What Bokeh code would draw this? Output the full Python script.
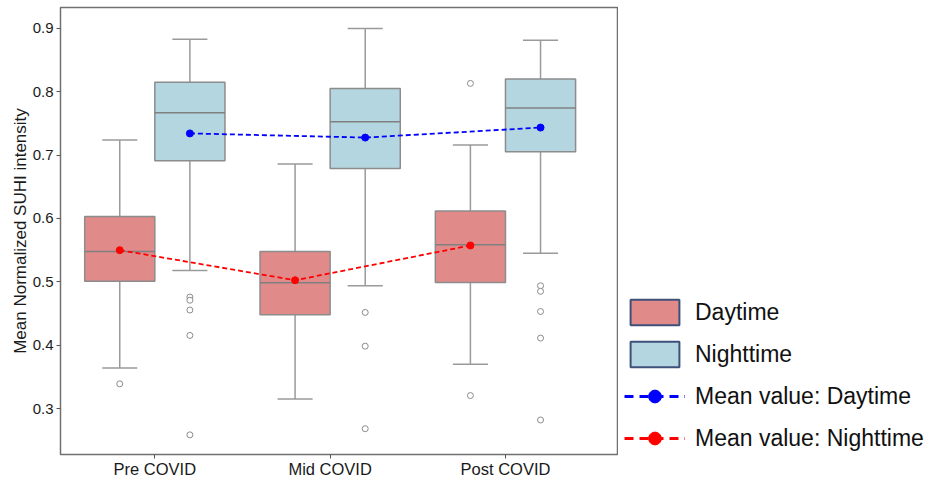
from bokeh.plotting import figure
from bokeh.layouts import row
from bokeh.models import ColumnDataSource, FixedTicker, Range1d, Legend, LegendItem
from bokeh.embed import file_html
from bokeh.resources import INLINE

periods = ["Pre COVID", "Mid COVID", "Post COVID"]

day_q1 = [0.501, 0.448, 0.499]
day_med = [0.548, 0.4985, 0.5585]
day_q3 = [0.603, 0.548, 0.612]
day_lo = [0.364, 0.315, 0.370]
day_hi = [0.724, 0.686, 0.716]
day_mean = [0.550, 0.5025, 0.5574]
day_out = [[0.339], [], [0.8132, 0.3205]]

night_q1 = [0.691, 0.679, 0.7055]
night_med = [0.7667, 0.7528, 0.7743]
night_q3 = [0.815, 0.805, 0.820]
night_lo = [0.518, 0.494, 0.545]
night_hi = [0.883, 0.900, 0.8815]
night_mean = [0.7343, 0.7277, 0.7435]
night_out = [[0.476, 0.471, 0.4555, 0.4154, 0.2585],
             [0.4517, 0.3985, 0.2682],
             [0.4938, 0.4851, 0.4532, 0.4112, 0.282]]

y_ticks = [0.3, 0.4, 0.5, 0.6, 0.7, 0.8, 0.9]

DAY_FILL = "#E08A8A"
NIGHT_FILL = "#B4D6E0"
BOX_LINE = "#8C8C8C"
LEG_LINE = "#3D5079"
FONT = "Liberation Sans"

p = figure(width=618, height=480,
           x_range=Range1d(-0.538, 2.639), y_range=Range1d(0.2275, 0.933),
           output_backend="svg", toolbar_location=None,
           min_border_left=60, min_border_right=1, min_border_top=7, min_border_bottom=0)

p.xgrid.visible = False
p.ygrid.visible = False
p.outline_line_color = "#707070"
p.outline_line_width = 1.5
p.background_fill_color = "white"
p.border_fill_color = "white"

def add_boxes(offset, q1, med, q3, lo, hi, outs, fill):
    n = len(q1)
    xs = [i + offset for i in range(n)]
    src = ColumnDataSource(dict(
        x=xs, q1=q1, med=med, q3=q3, lo=lo, hi=hi,
        xl=[x - 0.2 for x in xs], xr=[x + 0.2 for x in xs],
        cl=[x - 0.1 for x in xs], cr=[x + 0.1 for x in xs],
    ))
    p.segment(x0="x", y0="q3", x1="x", y1="hi", source=src, line_color="#9A9A9A", line_width=1.5)
    p.segment(x0="x", y0="q1", x1="x", y1="lo", source=src, line_color="#9A9A9A", line_width=1.5)
    p.segment(x0="cl", y0="hi", x1="cr", y1="hi", source=src, line_color="#9A9A9A", line_width=1.5)
    p.segment(x0="cl", y0="lo", x1="cr", y1="lo", source=src, line_color="#9A9A9A", line_width=1.5)
    p.vbar(x="x", width=0.4, bottom="q1", top="q3", source=src,
           fill_color=fill, line_color=BOX_LINE, line_width=1.5)
    p.segment(x0="xl", y0="med", x1="xr", y1="med", source=src, line_color="#808080", line_width=1.5)
    ox, oy = [], []
    for i, vals in enumerate(outs):
        for v in vals:
            ox.append(i + offset)
            oy.append(v)
    p.scatter(ox, oy, marker="circle", size=6, fill_color="white",
              line_color="#8C8C8C", line_width=1)

add_boxes(-0.2, day_q1, day_med, day_q3, day_lo, day_hi, day_out, DAY_FILL)
add_boxes(0.2, night_q1, night_med, night_q3, night_lo, night_hi, night_out, NIGHT_FILL)

nx = [i + 0.2 for i in range(3)]
dx = [i - 0.2 for i in range(3)]
p.line(nx, night_mean, line_color="blue", line_width=1.8, line_dash="5 3")
p.scatter(nx, night_mean, marker="circle", size=7, fill_color="blue", line_color="blue")
p.line(dx, day_mean, line_color="red", line_width=1.8, line_dash="5 3")
p.scatter(dx, day_mean, marker="circle", size=7, fill_color="red", line_color="red")

# axes
p.xaxis.ticker = FixedTicker(ticks=[0, 1, 2])
p.xaxis.major_label_overrides = {0: periods[0], 1: periods[1], 2: periods[2]}
p.yaxis.ticker = FixedTicker(ticks=y_ticks)
p.yaxis.axis_label = "Mean Normalized SUHI intensity"
for ax in (p.xaxis, p.yaxis):
    ax.axis_line_color = None
    ax.major_tick_in = 0
    ax.major_tick_out = 4
    ax.minor_tick_line_color = None
    ax.major_tick_line_color = "#555555"
    ax.major_label_text_font = FONT
    ax.major_label_text_color = "#1A1A1A"
    ax.axis_label_text_font = FONT
    ax.axis_label_text_font_style = "normal"
    ax.axis_label_text_color = "#1A1A1A"
p.xaxis.major_label_text_font_size = "16.5px"
p.xaxis.major_label_standoff = 1
p.yaxis.major_label_text_font_size = "15px"
p.yaxis.major_label_standoff = 3
p.yaxis.axis_label_text_font_size = "17px"
p.yaxis.axis_label_standoff = 0

# legend panel: a second figure (no axes) holding only the legend
q = figure(width=311, height=480, x_range=Range1d(0, 1), y_range=Range1d(0, 1),
           output_backend="svg", toolbar_location=None,
           x_axis_location=None, y_axis_location=None,
           min_border_left=0, min_border_right=0, min_border_top=0, min_border_bottom=0)
q.xgrid.visible = False
q.ygrid.visible = False
q.outline_line_color = None
q.border_fill_color = "white"
q.background_fill_color = "white"

NAN = [float("nan")]
r_day = q.vbar(x=NAN, width=0.4, top=NAN, bottom=NAN, fill_color=DAY_FILL,
               line_color=LEG_LINE, line_width=2)
r_night = q.vbar(x=NAN, width=0.4, top=NAN, bottom=NAN, fill_color=NIGHT_FILL,
                 line_color=LEG_LINE, line_width=2)
r_bl = q.line(NAN, NAN, line_color="blue", line_width=3, line_dash="9 6")
r_bm = q.scatter(NAN, NAN, marker="circle", size=16, fill_color="blue", line_color="blue")
r_rl = q.line(NAN, NAN, line_color="red", line_width=3, line_dash="9 6")
r_rm = q.scatter(NAN, NAN, marker="circle", size=16, fill_color="red", line_color="red")

legend = Legend(items=[
    LegendItem(label="Daytime", renderers=[r_day]),
    LegendItem(label="Nighttime", renderers=[r_night]),
    LegendItem(label="Mean value: Daytime", renderers=[r_bl, r_bm]),
    LegendItem(label="Mean value: Nighttime", renderers=[r_rl, r_rm]),
], location=(6, 0), orientation="vertical", glyph_width=61, glyph_height=32,
   spacing=10, label_standoff=10, label_text_font_size="23px", label_text_font=FONT,
   label_text_color="#111111", padding=0, margin=0, border_line_color=None,
   background_fill_alpha=0)
q.add_layout(legend)

layout = row(p, q, spacing=0)
open("out.html", "w").write(file_html(layout, INLINE))
